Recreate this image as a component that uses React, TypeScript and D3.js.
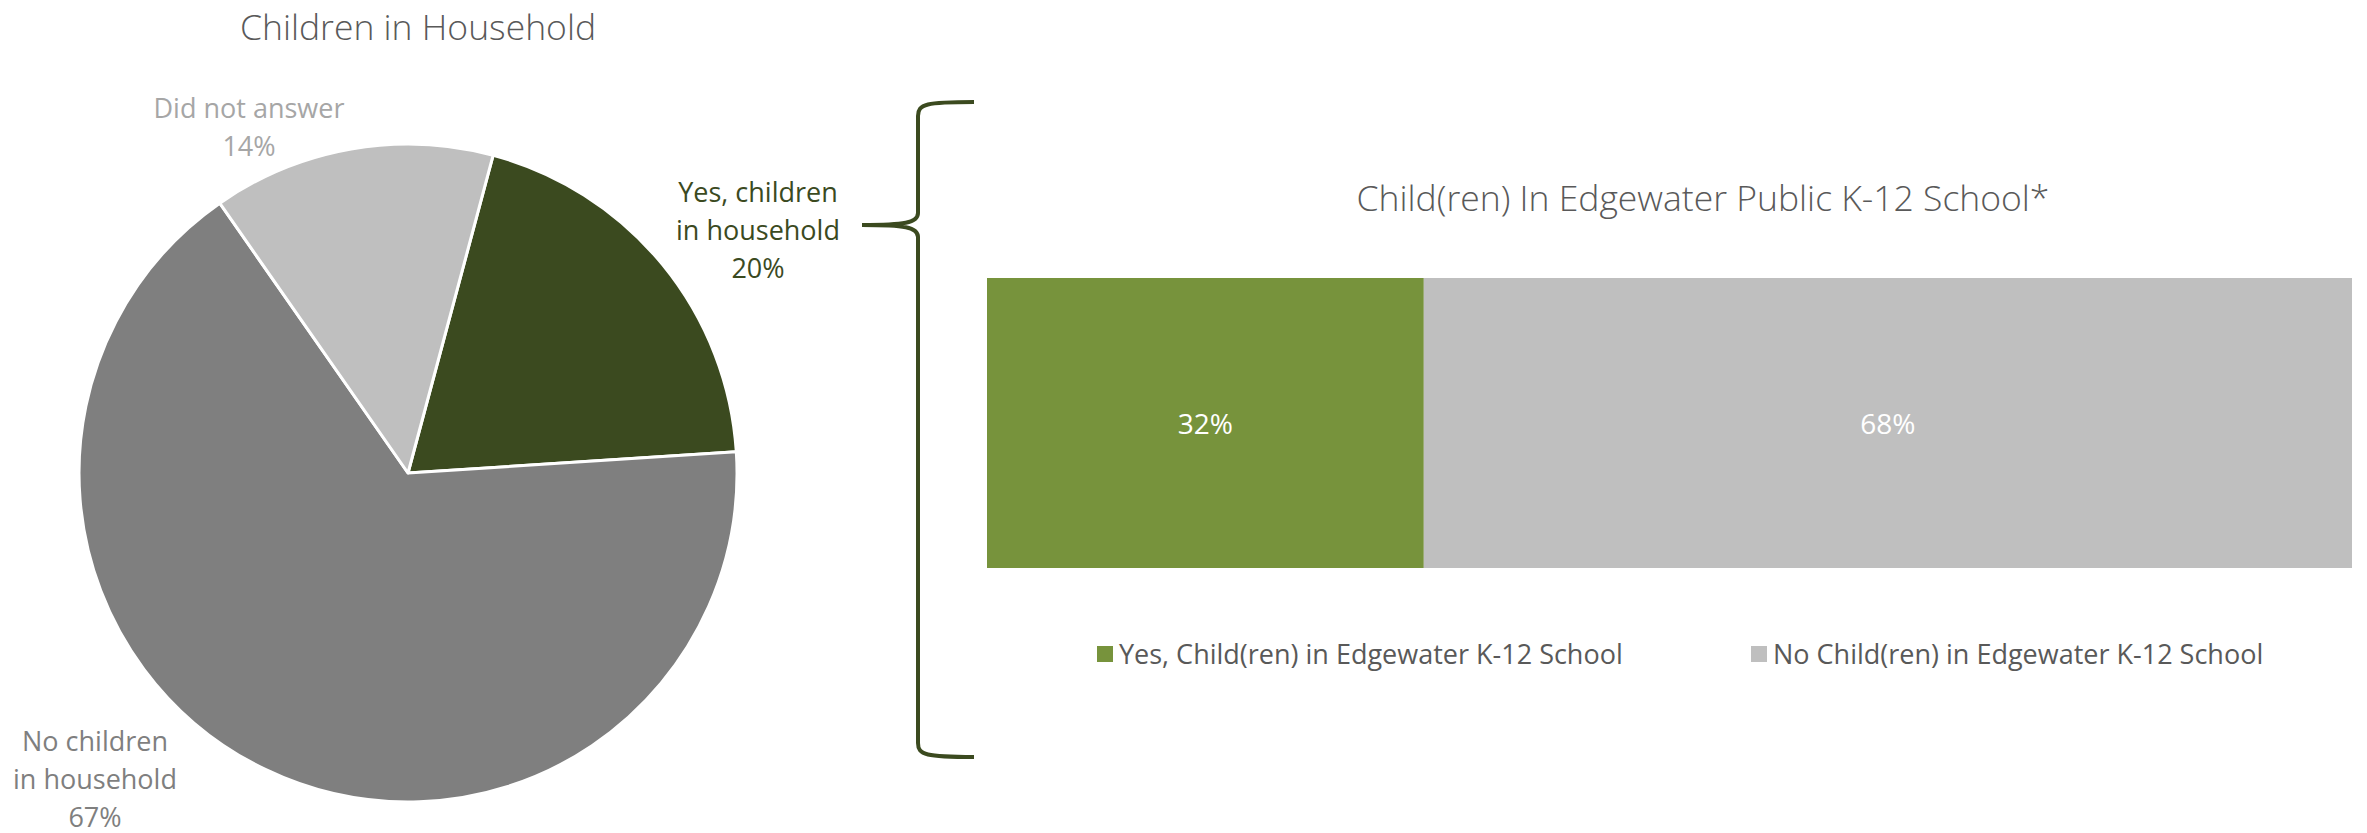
import React from "react";
import * as d3 from "d3";

const pieTitle = "Children in Household";
const pieCategories = ["Yes, children in household", "No children in household", "Did not answer"];
const pieValues = [20, 67, 14];
const pieLabelLines = [
  ["Yes, children", "in household", "20%"],
  ["No children", "in household", "67%"],
  ["Did not answer", "14%"],
];

const barTitle = "Child(ren) In Edgewater Public K-12 School*";
const barCategories = ["Yes, Child(ren) in Edgewater K-12 School", "No Child(ren) in Edgewater K-12 School"];
const barValues = [32, 68];

const W = 2367;
const H = 833;
const FONT = "'Open Sans', 'Noto Sans', sans-serif";

const pieColors = ["#3B4A1F", "#7F7F7F", "#BFBFBF"];
const pieLabelColors = ["#3B4A1F", "#7F7F7F", "#A6A6A6"];
const barColors = ["#77933C", "#BFBFBF"];

export default function App() {
  const cx = 408;
  const cy = 473;
  const r = 329;
  const rot = (15 * Math.PI) / 180;
  const pie = d3
    .pie<number>()
    .sort(null)
    .startAngle(rot)
    .endAngle(rot + 2 * Math.PI);
  const arcs = pie(pieValues);
  const arcGen = d3.arc<d3.PieArcDatum<number>>().innerRadius(0).outerRadius(r);

  // label anchor positions (center x, first baseline y)
  const labelPos = [
    { x: 758, y: 202 },
    { x: 95, y: 751 },
    { x: 249, y: 118 },
  ];
  const lineH = 38;

  // bar chart
  const x = d3.scaleLinear().domain([0, 100]).range([987, 2352]);
  const barY = 278;
  const barH = 290;
  const stacked: { start: number; end: number; v: number }[] = [];
  let acc = 0;
  barValues.forEach((v) => {
    stacked.push({ start: acc, end: acc + v, v });
    acc += v;
  });

  // brace path
  const bx = 918;
  const top = 102;
  const bottom = 757;
  const mid = 225;
  const tip = 862;
  const endX = 974;
  const brace = [
    `M ${endX} ${top}`,
    `C ${bx + 8} ${top} ${bx} ${top + 2} ${bx} ${top + 14}`,
    `L ${bx} ${mid - 12}`,
    `C ${bx} ${mid - 2} ${bx - 14} ${mid} ${tip} ${mid}`,
    `C ${bx - 14} ${mid} ${bx} ${mid + 2} ${bx} ${mid + 12}`,
    `L ${bx} ${bottom - 14}`,
    `C ${bx} ${bottom - 2} ${bx + 8} ${bottom} ${endX} ${bottom}`,
  ].join(" ");

  const legendX = [1097, 1751];

  return (
    <svg
      width={W}
      height={H}
      style={{ position: "absolute", left: 0, top: 0, display: "block", background: "#fff" }}
      fontFamily={FONT}
    >
      <text x={418} y={40} textAnchor="middle" fontSize={35.5} fill="#595959" fontWeight={300}>
        {pieTitle}
      </text>
      <g transform={`translate(${cx},${cy})`}>
        {arcs.map((a, i) => (
          <path key={pieCategories[i]} d={arcGen(a) || ""} fill={pieColors[i]} stroke="#fff" strokeWidth={3} strokeLinejoin="round" />
        ))}
      </g>
      {pieLabelLines.map((lines, i) => (
        <text key={i} textAnchor="middle" fontSize={27} fill={pieLabelColors[i]}>
          {lines.map((l, j) => (
            <tspan key={j} x={labelPos[i].x} y={labelPos[i].y + j * lineH}>
              {l}
            </tspan>
          ))}
        </text>
      ))}

      <path d={brace} fill="none" stroke="#3B4A1F" strokeWidth={4} strokeLinecap="butt" />

      <text x={1703} y={211} textAnchor="middle" fontSize={35.5} fill="#595959" fontWeight={300}>
        {barTitle}
      </text>
      {stacked.map((s, i) => (
        <g key={barCategories[i]}>
          <rect x={x(s.start)} y={barY} width={x(s.end) - x(s.start)} height={barH} fill={barColors[i]} />
          <text
            x={(x(s.start) + x(s.end)) / 2}
            y={barY + barH / 2 + 11}
            textAnchor="middle"
            fontSize={28}
            fill="#fff"
          >
            {s.v}%
          </text>
        </g>
      ))}
      {barCategories.map((c, i) => (
        <g key={c}>
          <rect x={legendX[i]} y={646} width={16} height={16} fill={barColors[i]} />
          <text x={legendX[i] + 22} y={664} fontSize={27} fill="#595959">
            {c}
          </text>
        </g>
      ))}
    </svg>
  );
}
